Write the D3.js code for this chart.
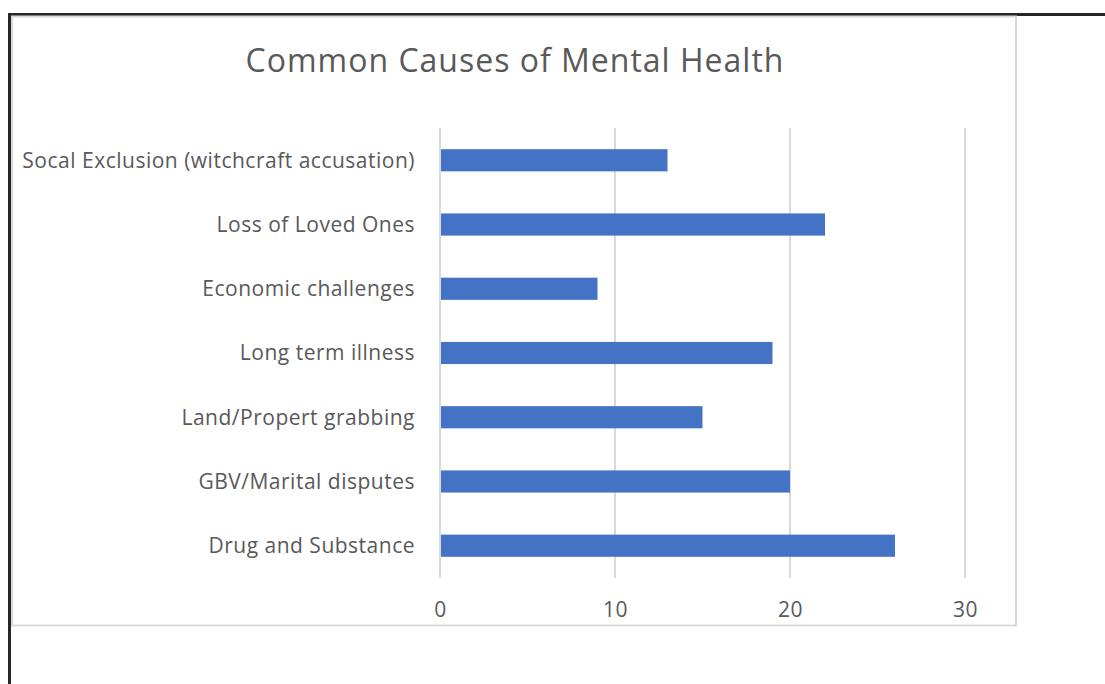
<!DOCTYPE html>
<html>
<head>
<meta charset="utf-8">
<script src="https://cdn.jsdelivr.net/npm/d3@7"></script>
<style>
  html, body { margin: 0; padding: 0; background: #fff; }
  svg { display: block; }
  text { font-family: "Open Sans", "Noto Sans", sans-serif; }
</style>
</head>
<body>
<svg id="chart" width="1105" height="684"></svg>
<script>
// Causes, listed top to bottom
const categories = [
  "Socal Exclusion (witchcraft accusation)",
  "Loss of Loved Ones",
  "Economic challenges",
  "Long term illness",
  "Land/Propert grabbing",
  "GBV/Marital disputes",
  "Drug and Substance"
];
const values = [13, 22, 9, 19, 15, 20, 26];
const xTicks = [0, 10, 20, 30];
const title = "Common Causes of Mental Health";

const svg = d3.select("#chart");

// outer frame (dark rule along top and left)
svg.append("line").attr("x1", 9).attr("x2", 1105).attr("y1", 14.5).attr("y2", 14.5)
  .attr("stroke", "#262626").attr("stroke-width", 3);
svg.append("line").attr("x1", 9.5).attr("x2", 9.5).attr("y1", 13).attr("y2", 684)
  .attr("stroke", "#262626").attr("stroke-width", 3);

// chart area border
svg.append("rect").attr("x", 12).attr("y", 16.5).attr("width", 1004).attr("height", 609)
  .attr("fill", "#fff").attr("stroke", "#d9d9d9").attr("stroke-width", 2);

const plot = { left: 440, right: 965, top: 128, bottom: 578 };

const x = d3.scaleLinear().domain([0, 30]).range([plot.left, plot.right]);
const y = d3.scaleBand().domain(categories).range([plot.top, plot.bottom]).paddingInner(0.655).paddingOuter(0.33);

// gridlines
svg.append("g").selectAll("line").data(xTicks).join("line")
  .attr("x1", d => x(d)).attr("x2", d => x(d))
  .attr("y1", plot.top).attr("y2", plot.bottom)
  .attr("stroke", "#d9d9d9").attr("stroke-width", 2);

// bars
svg.append("g").selectAll("rect").data(values).join("rect")
  .attr("x", x(0) + 1)
  .attr("y", (d, i) => y(categories[i]))
  .attr("width", d => x(d) - x(0) - 1)
  .attr("height", y.bandwidth())
  .attr("fill", "#4472c4");

// x axis labels
const xAxis = d3.axisBottom(x).tickValues(xTicks).tickSize(0).tickPadding(0).tickFormat(d3.format("d"));
const gx = svg.append("g").attr("transform", `translate(0,617)`).call(xAxis);
gx.select(".domain").remove();
gx.selectAll("text").attr("fill", "#595959").attr("font-size", 21)
  .attr("letter-spacing", 0.5).attr("y", 0).attr("dy", 0);

// category labels
const yAxis = d3.axisLeft(y).tickSize(0).tickPadding(0);
const gy = svg.append("g").attr("transform", `translate(${plot.left - 25},0)`).call(yAxis);
gy.select(".domain").remove();
gy.selectAll("text").attr("fill", "#595959").attr("font-size", 21)
  .attr("letter-spacing", 0.5).attr("dy", "0.35em");

// title
svg.append("text").attr("x", 515).attr("y", 72).attr("text-anchor", "middle")
  .attr("font-size", 32).attr("letter-spacing", 1).attr("fill", "#595959").text(title);
</script>
</body>
</html>
